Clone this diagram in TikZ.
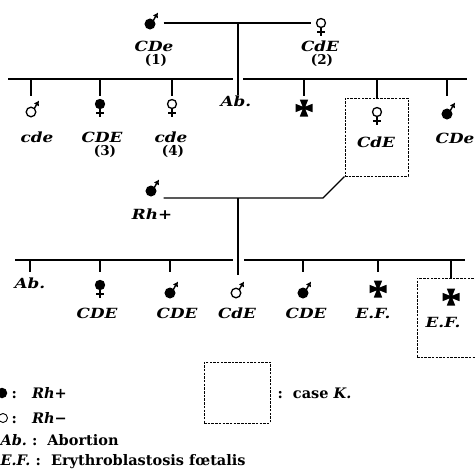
\documentclass[tikz,border=0pt]{standalone}
\usepackage{fontspec}
\setmainfont{DejaVu Serif}
\newfontfamily\genefont[FakeStretch=1.2]{DejaVu Serif}
\usetikzlibrary{arrows.meta}

\tikzset{
  gene/.style={font=\genefont\fontsize{14}{15}\selectfont\bfseries\itshape,inner sep=0pt},
  num/.style={font=\fontsize{13.5}{15}\selectfont\bfseries,inner sep=0pt},
  legend/.style={font=\fontsize{14.5}{16}\selectfont\bfseries,inner sep=0pt,anchor=west},
  who/.style={circle,inner sep=0pt,minimum size=10pt},
  caseK/.style={draw,line width=1pt,dash pattern=on 2.5pt off 1.2pt,inner sep=0pt},
  pics/male/.style={code={
    \draw[line width=1.3pt,fill=#1] (0,0) circle (4.8);
    \draw[line width=1.4pt,-{Latex[length=5pt,width=6pt]}] (3,-3) -- (8,-11.5);}},
  pics/female/.style={code={
    \draw[line width=1.3pt,fill=#1] (0,0) circle (4.5);
    \draw[line width=1.3pt] (0,4.5) -- (0,13) (-4,9) -- (4,9);}},
  pics/dead/.style={code={
    \fill (-1.4,-1.4) -- (-4.2,-8.5) -- (4.2,-8.5) -- (1.4,-1.4) -- (8.5,-4.2) -- (8.5,4.2)
      -- (1.4,1.4) -- (4.2,8.5) -- (-4.2,8.5) -- (-1.4,1.4) -- (-8.5,4.2) -- (-8.5,-4.2) -- cycle;}}
}

\begin{document}
\begin{tikzpicture}[x=1pt,y=-1pt,line width=1.1pt]
  \useasboundingbox (0,0) rectangle (475,472);
  % first marriage
  \node[who] (p1) at (150,24){}; \pic at (p1){male=black};
  \node[who] (p2) at (321,23){}; \pic at (p2){female=white};
  \draw[shorten <=8pt,shorten >=4pt] (p1.east |- p2) -- (p2.west);
  \node[gene] (g1) at (154,46){CDe}; \node[num] (n1) at (156,60){(1)};
  \node[gene] (g2) at (320,46){CdE}; \node[num] (n2) at (322,60){(2)};
  \coordinate (m1) at (238,23);
  \coordinate (s1a) at (8,79); \coordinate (s1b) at (233,79);
  \coordinate (s1c) at (243,79); \coordinate (s1d) at (467,79);
  \draw (s1a) -- (s1b) (s1c) -- (s1d);
  \node[gene] (ab1) at (236,101){Ab.};
  \draw (m1) -- (m1 |- ab1.north);
  \node[who] (c1) at (31,112){}; \pic at (c1){male=white};
  \node[who] (c2) at (100,104){}; \pic at (c2){female=black};
  \node[who] (c3) at (172,104){}; \pic at (c3){female=white};
  \node[who] (c5) at (304,108){}; \pic at (c5){dead};
  \node[who] (c6) at (377,112){}; \pic at (c6){female=white};
  \node[who] (c7) at (447,114){}; \pic at (c7){male=black};
  \foreach \k in {c1,c2,c3,c5,c7} \draw (\k |- s1a) -- ++(0,17);
  \node[gene] (g3) at (37,137){cde};
  \node[gene] (g4) at (102,137){CDE}; \node[num] (n3) at (105,151){(3)};
  \node[gene] (g5) at (171,137){cde}; \node[num] (n4) at (173,151){(4)};
  \node[gene] (g6) at (376,142){CdE};
  \node[gene] (g7) at (455,138){CDe};
  \node[caseK,minimum width=63,minimum height=78] (k1) at (376.5,137){};
  \draw (c6 |- s1a) -- (c6 |- k1.north);
  % second marriage
  \node[who] (p3) at (151,191){}; \pic at (p3){male=black};
  \node[gene] (g8) at (152,214){Rh+};
  \coordinate (kink) at (323,198); \coordinate (m2) at (238,198);
  \draw[shorten >=7pt] (k1.south west) -- (kink) -- (kink -| p3.east);
  \draw (m2) -- ++(0,77);
  \coordinate (s2a) at (15,260); \coordinate (s2b) at (233,260);
  \coordinate (s2c) at (244,260); \coordinate (s2d) at (465,260);
  \draw (s2a) -- (s2b) (s2c) -- (s2d);
  \node[gene] (d1) at (30,283){Ab.};
  \node[who] (d2) at (100,285){}; \pic at (d2){female=black};
  \node[who] (d3) at (170,293){}; \pic at (d3){male=black};
  \node[who] (d4) at (236,293){}; \pic at (d4){male=white};
  \node[who] (d5) at (303,293){}; \pic at (d5){male=black};
  \node[who] (d6) at (378,289){}; \pic at (d6){dead};
  \node[who] (d7) at (451,297){}; \pic at (d7){dead};
  \foreach \k in {d1,d2,d3,d5,d6} \draw (\k |- s2a) -- ++(0,12);
  \node[gene] (g9) at (97,313){CDE};
  \node[gene] (g10) at (177,313){CDE};
  \node[gene] (g11) at (237,313){CdE};
  \node[gene] (g12) at (306,313){CDE};
  \node[gene] (g13) at (373,313){E.F.};
  \node[gene] (g14) at (443,322){E.F.};
  \node[caseK,minimum width=61,minimum height=79] (k2) at (447.5,317.5){};
  \draw (d7 |- s2a) -- (d7 |- k2.north);
  % legend
  \node[circle,fill,inner sep=0pt,minimum size=10.5pt] (kplus) at (2,393){};
  \node[legend] (tplus) at (11,393){:\ \ \ \textit{Rh+}};
  \node[circle,draw,line width=0.9pt,inner sep=0pt,minimum size=9pt] (kminus) at (3,418){};
  \node[legend] (tminus) at (11,418){:\ \ \ \textit{Rh−}};
  \node[legend] (tab) at (0,440){\textit{Ab.}\ :\ \ Abortion};
  \node[legend] (tef) at (0,462){\textit{E.F.}\ :\ \ Erythroblastosis fœtalis};
  \node[caseK,minimum width=66,minimum height=61] (k3) at (237,392.5){};
  \node[legend] (tk) at (277,393){:\ \ case \textit{K.}};
\end{tikzpicture}
\end{document}
